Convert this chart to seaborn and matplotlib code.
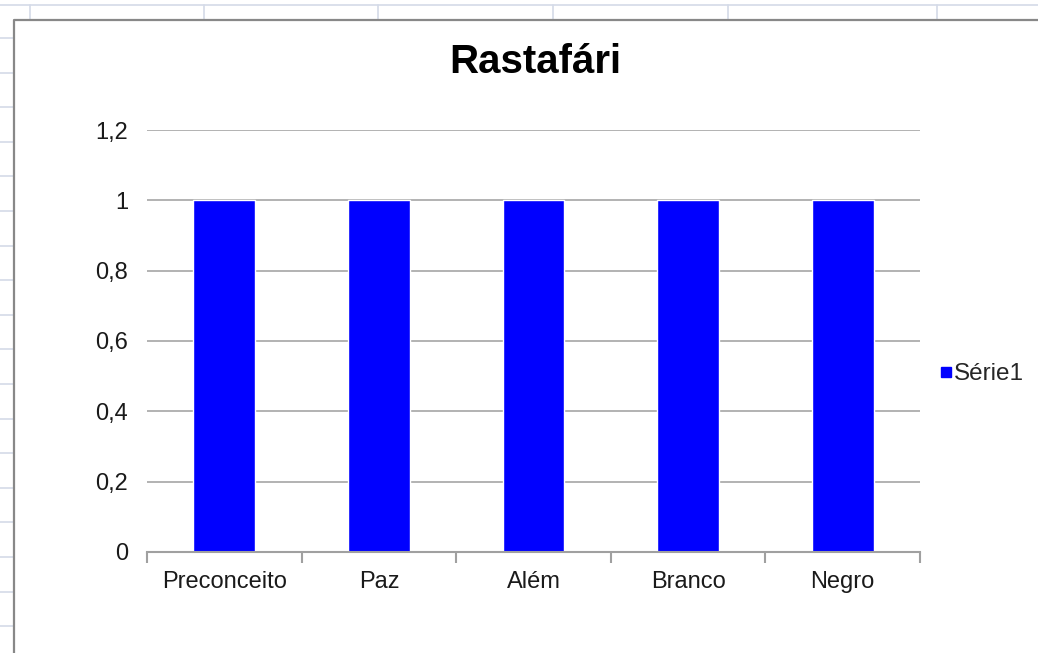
import numpy as np
import pandas as pd
import matplotlib
matplotlib.use("Agg")
import matplotlib.pyplot as plt
from matplotlib.lines import Line2D
import seaborn as sns

categorias = ["Preconceito", "Paz", "Além", "Branco", "Negro"]
valores = [1, 1, 1, 1, 1]
serie = "Série1"
yticks = [0, 0.2, 0.4, 0.6, 0.8, 1.0, 1.2]
ytick_labels = ["0", "0,2", "0,4", "0,6", "0,8", "1", "1,2"]

sns.set_theme(style="white")
plt.rcParams["font.family"] = ["Liberation Sans", "DejaVu Sans"]

df = pd.DataFrame({"categoria": categorias, "valor": valores})

W, H = 1038, 653
fig = plt.figure(figsize=(W / 100, H / 100), dpi=100)
fig.patch.set_facecolor("white")

# linhas da planilha ao fundo
cell = "#d4dae8"
fig.add_artist(Line2D([0, 1], [1 - 5 / H, 1 - 5 / H], color=cell, lw=1.2))
for xv in [30, 204, 378, 553, 728, 937]:
    fig.add_artist(Line2D([xv / W, xv / W], [1 - 5 / H, 1 - 20 / H], color=cell, lw=1.2))
for yv in np.arange(38, 653, 34.6):
    fig.add_artist(Line2D([0, 14 / W], [1 - yv / H, 1 - yv / H], color=cell, lw=1.2))
# borda da área do gráfico
fig.add_artist(Line2D([14 / W, 14 / W, 1], [0, 1 - 20 / H, 1 - 20 / H], color="#888888", lw=1.6))

ax = fig.add_axes([147 / W, 1 - 552 / H, (920 - 147) / W, (552 - 130) / H])
sns.barplot(data=df, x="categoria", y="valor", color="#0000FF", width=0.4,
            saturation=1, label=serie, ax=ax, zorder=3)

ax.set_xlim(-0.5, len(categorias) - 0.5)
ax.set_ylim(0, 1.2)
ax.set_yticks(yticks)
ax.set_yticklabels(ytick_labels)
ax.yaxis.grid(True, color="#a6a6a6", lw=1.2, zorder=0)
ax.set_axisbelow(True)
for s in ["top", "right", "left"]:
    ax.spines[s].set_visible(False)
ax.spines["bottom"].set_color("#a0a0a0")
ax.spines["bottom"].set_linewidth(1.5)
ax.spines["bottom"].set_zorder(4)

ax.set_xticks(range(len(categorias)))
ax.set_xticklabels(categorias)
ax.set_xticks(np.arange(-0.5, len(categorias), 1), minor=True)
ax.tick_params(axis="x", which="major", length=0, pad=14, labelsize=17, labelcolor="#1a1a1a")
ax.tick_params(axis="x", which="minor", bottom=True, direction="out", length=8,
               width=1.5, color="#a0a0a0")
ax.tick_params(axis="y", length=0, pad=13.5, labelsize=17, labelcolor="#1a1a1a")
ax.set_xlabel("")
ax.set_ylabel("")

fig.text(535 / W, 1 - 62 / H, "Rastafári", ha="center", va="center",
         fontsize=29, fontweight="bold", color="black")

handle = Line2D([], [], marker="s", color="none", markerfacecolor="#0000FF",
                markeredgecolor="#0000FF", markersize=7.5)
fig.legend([handle], [serie], loc="center left", bbox_to_anchor=(941 / W, 1 - 374 / H),
           frameon=False, fontsize=17.5, handlelength=0.45, handletextpad=0.1,
           borderpad=0, borderaxespad=0)
if ax.get_legend() is not None:
    ax.get_legend().remove()

fig.savefig("out.png", dpi=100)
